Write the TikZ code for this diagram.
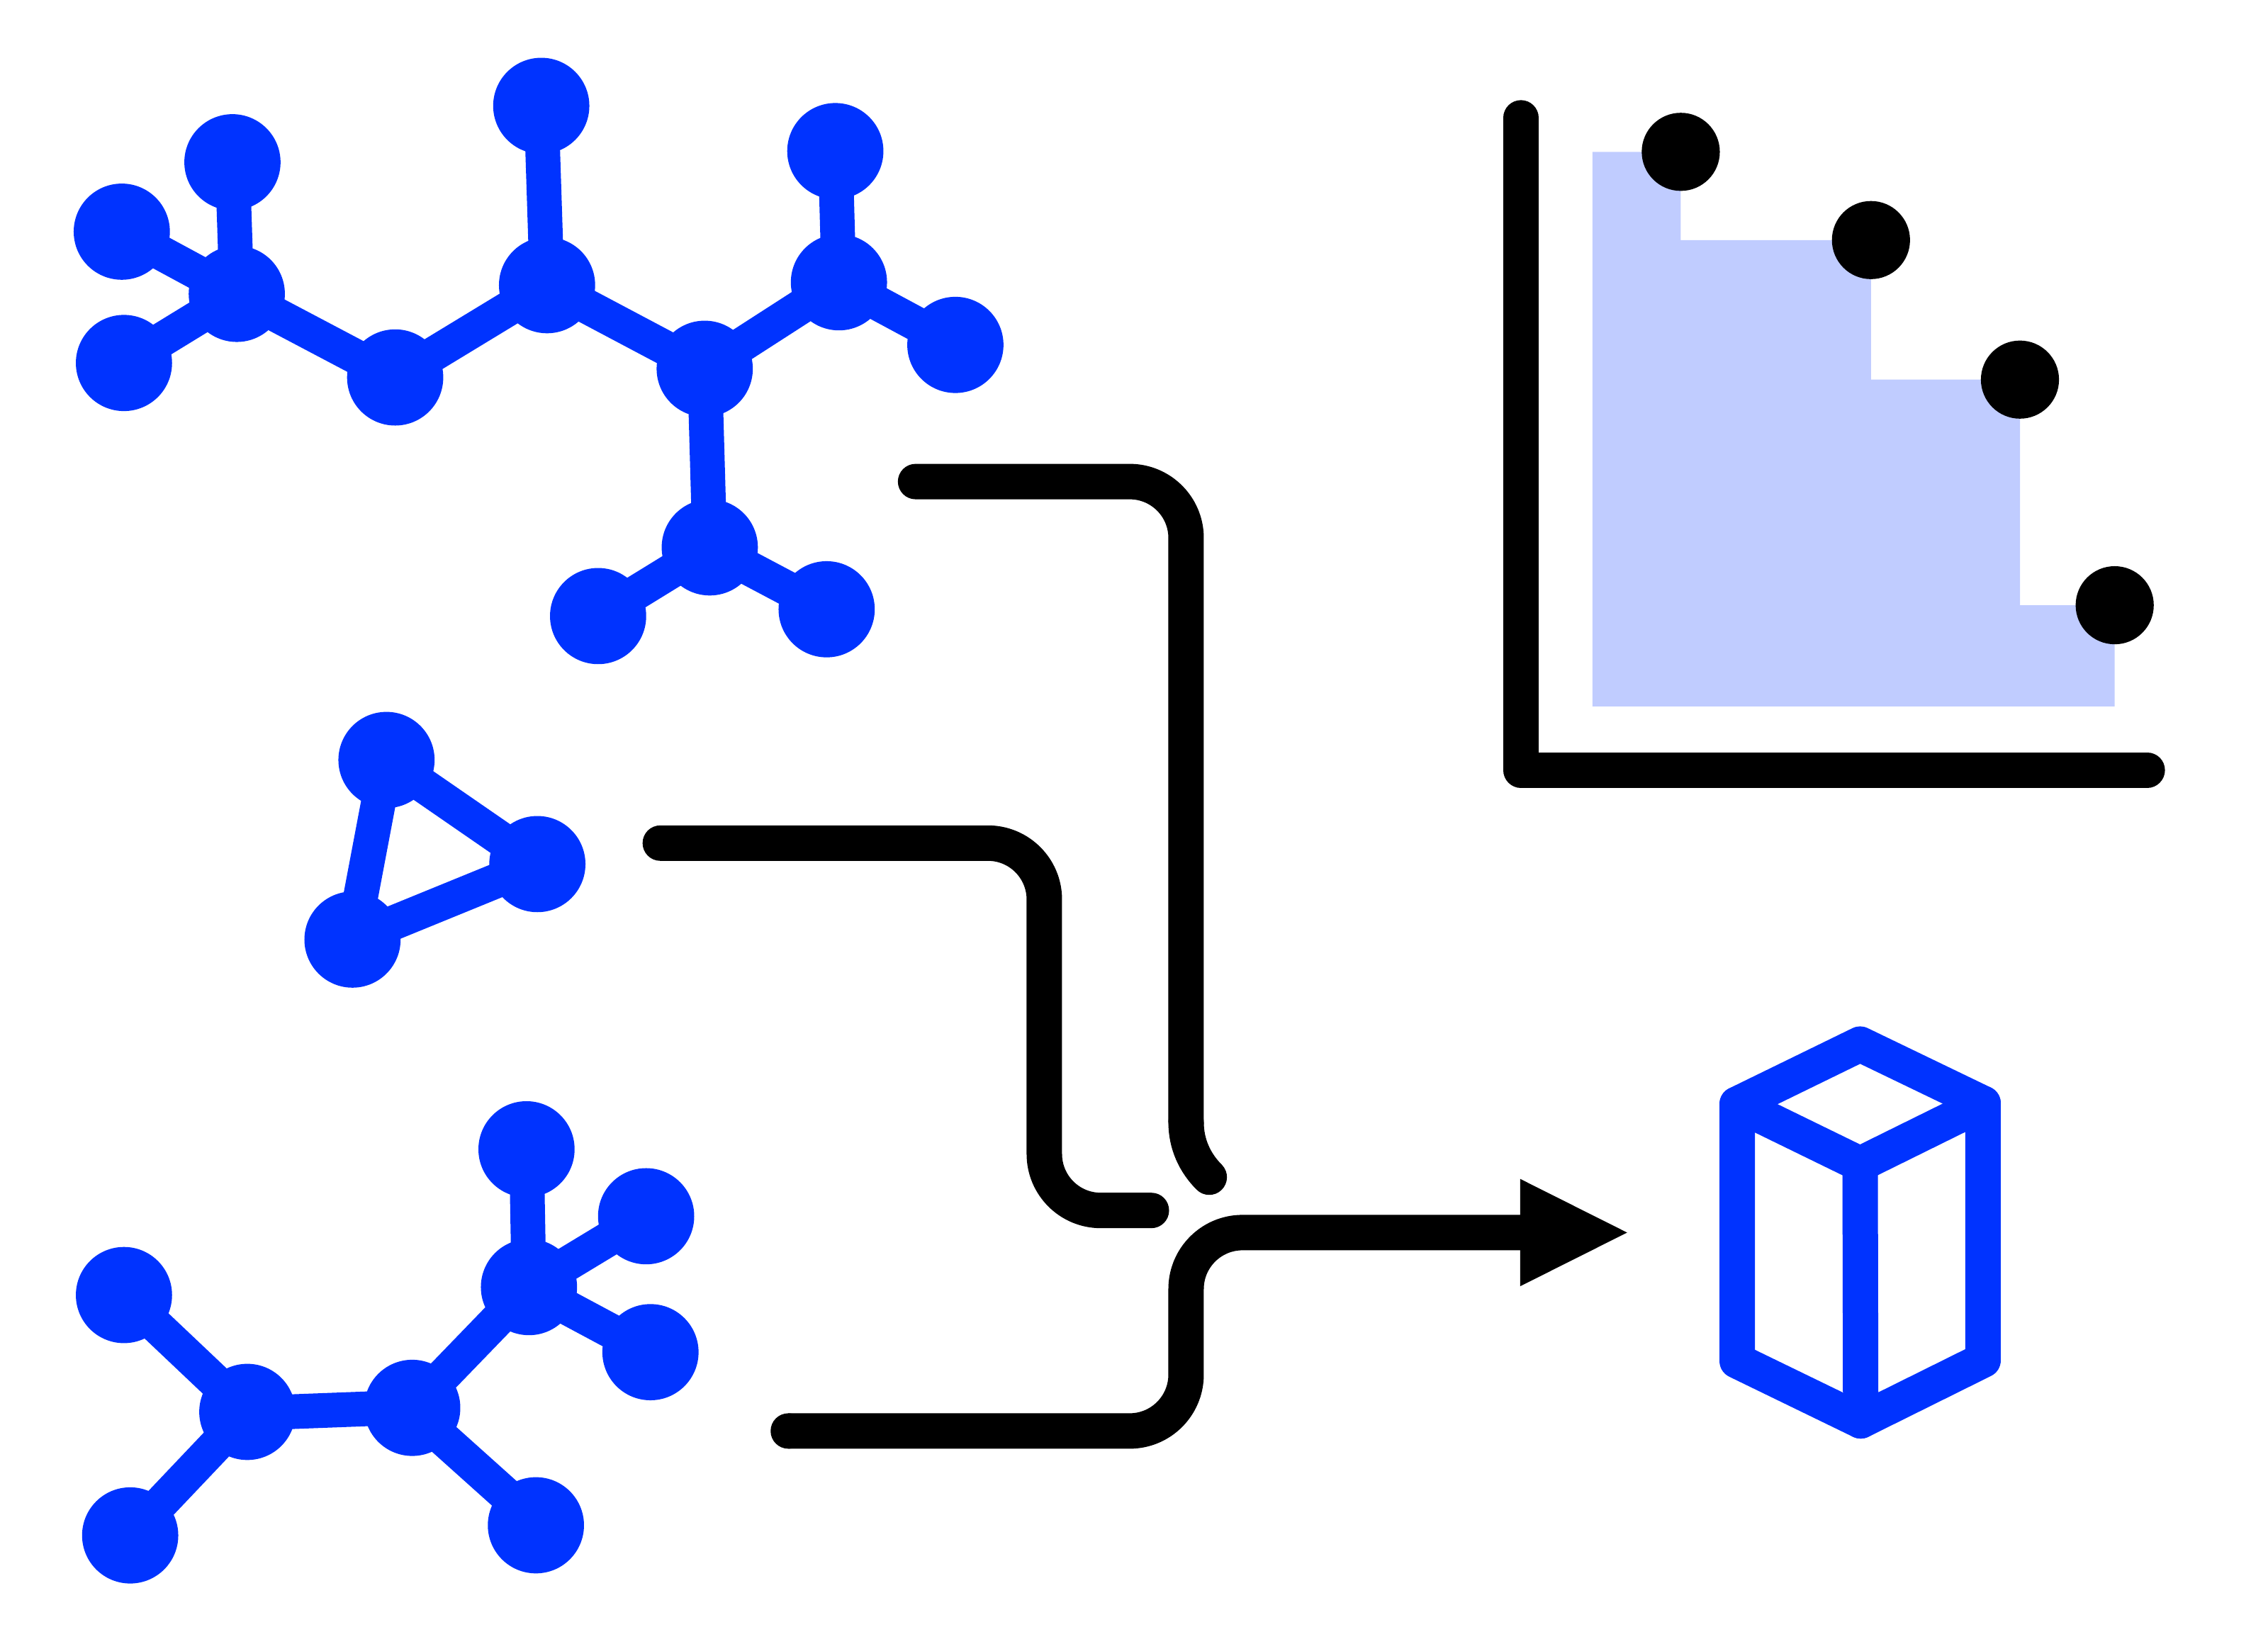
\documentclass[tikz,border=0pt]{standalone}
\usetikzlibrary{arrows.meta}
\definecolor{molblue}{HTML}{0033FF}
\definecolor{stairblue}{HTML}{C0CCFF}
\tikzset{
  atom/.style={circle,fill=molblue,inner sep=0pt,outer sep=0pt,minimum size=66.5pt},
  dotmark/.style={circle,fill=black,inner sep=0pt,outer sep=0pt,minimum size=54pt},
  bond/.style={draw=molblue,line width=24pt},
  wire/.style={draw=black,line width=24.5pt,line cap=round,line join=round,rounded corners=39pt},
  axisline/.style={draw=black,line width=24.5pt,line cap=round,line join=round},
  cubeline/.style={draw=molblue,line width=24.5pt,line cap=round,line join=round},
}
\begin{document}
\begin{tikzpicture}[x=1pt,y=-1pt]
\useasboundingbox (0,0) rectangle (1568,1136.8);
% staircase area
\fill[stairblue] (1101,105) -- (1162,105) -- (1162,166) -- (1293.5,166) -- (1293.5,262.5) -- (1396.5,262.5) -- (1396.5,418.5) -- (1462,418.5) -- (1462,488.5) -- (1101,488.5) -- cycle;
% molecule 1
\node[atom] (m1a) at (374.2,73.2) {};
\node[atom] (m1b) at (160.7,112.2) {};
\node[atom] (m1c) at (84.2,160.2) {};
\node[atom] (m1d) at (85.7,251) {};
\node[atom] (m1e) at (163.7,203.2) {};
\node[atom] (m1f) at (273.2,261) {};
\node[atom] (m1g) at (378.2,197.2) {};
\node[atom] (m1h) at (487.2,255) {};
\node[atom] (m1i) at (580,195.2) {};
\node[atom] (m1j) at (577.5,104.5) {};
\node[atom] (m1k) at (660.5,238.5) {};
\node[atom] (m1l) at (490.7,378.5) {};
\node[atom] (m1m) at (413.5,426) {};
\node[atom] (m1n) at (571.5,421.3) {};
\draw[bond] (m1b.center)--(m1e.center);
\draw[bond] (m1c.center)--(m1e.center);
\draw[bond] (m1d.center)--(m1e.center);
\draw[bond] (m1e.center)--(m1f.center);
\draw[bond] (m1f.center)--(m1g.center);
\draw[bond] (m1g.center)--(m1a.center);
\draw[bond] (m1g.center)--(m1h.center);
\draw[bond] (m1h.center)--(m1i.center);
\draw[bond] (m1i.center)--(m1j.center);
\draw[bond] (m1i.center)--(m1k.center);
\draw[bond] (m1h.center)--(m1l.center);
\draw[bond] (m1l.center)--(m1m.center);
\draw[bond] (m1l.center)--(m1n.center);
% molecule 2
\node[atom] (m2a) at (267.2,525.5) {};
\node[atom] (m2b) at (371.5,597.5) {};
\node[atom] (m2c) at (243.7,649.7) {};
\draw[bond] (m2a.center)--(m2b.center);
\draw[bond] (m2a.center)--(m2c.center);
\draw[bond] (m2b.center)--(m2c.center);
% molecule 3
\node[atom] (m3a) at (364,794.7) {};
\node[atom] (m3b) at (446.7,841) {};
\node[atom] (m3c) at (449.7,935) {};
\node[atom] (m3d) at (365.7,890) {};
\node[atom] (m3e) at (285,973.5) {};
\node[atom] (m3f) at (171,976.3) {};
\node[atom] (m3g) at (85.7,895.5) {};
\node[atom] (m3h) at (90,1061.7) {};
\node[atom] (m3i) at (370.5,1054.7) {};
\draw[bond] (m3a.center)--(m3d.center);
\draw[bond] (m3b.center)--(m3d.center);
\draw[bond] (m3c.center)--(m3d.center);
\draw[bond] (m3d.center)--(m3e.center);
\draw[bond] ([yshift=0.5pt]m3e.center)--([yshift=-1pt]m3f.center);
\draw[bond] (m3f.center)--(m3g.center);
\draw[bond] (m3f.center)--(m3h.center);
\draw[bond] ([yshift=-2pt]m3e.center)--([yshift=2.5pt]m3i.center);
% wires
\coordinate (w1s) at (633,333);
\coordinate (w1a) at (820,333);
\coordinate (w1b) at (820,776);
\coordinate (w1e) at (836,814);
\draw[wire] (w1s) -- (w1a) -- (w1b);
\draw[draw=black,line width=24.5pt,line cap=round] (w1b) .. controls (820,791) and (826,804) .. (w1e);
\coordinate (w2s) at (456.5,583);
\coordinate (w2a) at (722,583);
\coordinate (w2b) at (722,837);
\coordinate (w2e) at (796,837);
\draw[wire] (w2s) -- (w2a) -- (w2b) -- (w2e);
\coordinate (w3s) at (545,989.5);
\coordinate (w3a) at (820,989.5);
\coordinate (w3b) at (820,852.3);
\coordinate (w3e) at (1127,852.3);
\draw[wire,line cap=butt,-{Triangle[length=76pt,width=68pt]}] (w3s) -- (w3a) -- (w3b) -- (w3e);
\fill[black] (w3s) circle (12.25pt);
% axes
\coordinate (axt) at (1051.5,81.5);
\coordinate (axo) at (1051.5,532.5);
\coordinate (axr) at (1484.5,532.5);
\draw[axisline] (axt) -- (axo) -- (axr);
% dots
\node[dotmark] (d1) at (1162,105) {};
\node[dotmark] (d2) at (1293.5,166) {};
\node[dotmark] (d3) at (1396.5,262.5) {};
\node[dotmark] (d4) at (1462,418.5) {};
% cube
\coordinate (ct) at (1286,722);
\coordinate (cl) at (1201,763.5);
\coordinate (cr) at (1371,763);
\coordinate (cc) at (1286,805);
\coordinate (cbl) at (1201,941);
\coordinate (cbr) at (1371,940.5);
\coordinate (cb) at (1286.4,982.5);
\draw[cubeline] (ct) -- (cr) -- (cbr) -- (cb) -- (cbl) -- (cl) -- cycle;
\draw[cubeline] (cl) -- (cc) -- (cr);
\draw[cubeline] (cc) -- (cb);
\end{tikzpicture}
\end{document}
